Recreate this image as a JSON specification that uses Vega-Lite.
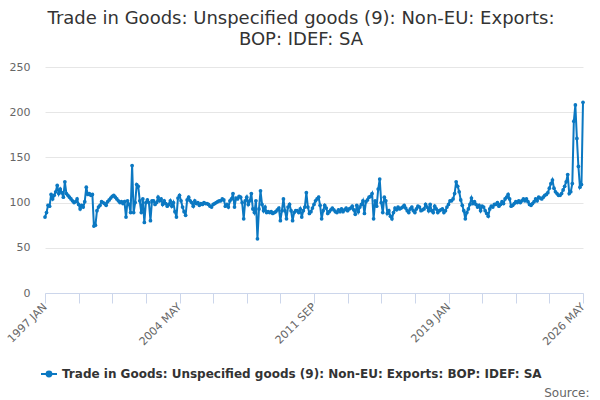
{
  "$schema": "https://vega.github.io/schema/vega-lite/v6.json",
  "width": 538,
  "height": 226,
  "autosize": {"type": "none"},
  "padding": {"left": 45, "top": 67, "right": 17, "bottom": 107},
  "background": "white",
  "config": {"font": "DejaVu Sans", "view": {"stroke": null}},
  "title": {
    "text": ["Trade in Goods: Unspecified goods (9): Non-EU: Exports:", "BOP: IDEF: SA"],
    "fontSize": 18,
    "fontWeight": "normal",
    "color": "#333333",
    "anchor": "middle",
    "frame": "group",
    "dx": -13,
    "offset": 12,
    "lineHeight": 21
  },
  "data": {
    "values": [
      {"m": "1997 JAN", "v": 84}, {"m": "1997 FEB", "v": 89}, {"m": "1997 MAR", "v": 97}, {"m": "1997 APR", "v": 96}, {"m": "1997 MAY", "v": 109}, {"m": "1997 JUN", "v": 104}, {"m": "1997 JUL", "v": 108}, {"m": "1997 AUG", "v": 112}, {"m": "1997 SEP", "v": 119}, {"m": "1997 OCT", "v": 110}, {"m": "1997 NOV", "v": 115}, {"m": "1997 DEC", "v": 111},
      {"m": "1998 JAN", "v": 106}, {"m": "1998 FEB", "v": 123}, {"m": "1998 MAR", "v": 110}, {"m": "1998 APR", "v": 108}, {"m": "1998 MAY", "v": 106}, {"m": "1998 JUN", "v": 104}, {"m": "1998 JUL", "v": 102}, {"m": "1998 AUG", "v": 100}, {"m": "1998 SEP", "v": 101}, {"m": "1998 OCT", "v": 104}, {"m": "1998 NOV", "v": 98}, {"m": "1998 DEC", "v": 93},
      {"m": "1999 JAN", "v": 97}, {"m": "1999 FEB", "v": 95}, {"m": "1999 MAR", "v": 101}, {"m": "1999 APR", "v": 117}, {"m": "1999 MAY", "v": 109}, {"m": "1999 JUN", "v": 110}, {"m": "1999 JUL", "v": 108}, {"m": "1999 AUG", "v": 109}, {"m": "1999 SEP", "v": 74}, {"m": "1999 OCT", "v": 75}, {"m": "1999 NOV", "v": 91}, {"m": "1999 DEC", "v": 95},
      {"m": "2000 JAN", "v": 97}, {"m": "2000 FEB", "v": 101}, {"m": "2000 MAR", "v": 100}, {"m": "2000 APR", "v": 99}, {"m": "2000 MAY", "v": 97}, {"m": "2000 JUN", "v": 101}, {"m": "2000 JUL", "v": 103}, {"m": "2000 AUG", "v": 105}, {"m": "2000 SEP", "v": 107}, {"m": "2000 OCT", "v": 108}, {"m": "2000 NOV", "v": 106}, {"m": "2000 DEC", "v": 104},
      {"m": "2001 JAN", "v": 102}, {"m": "2001 FEB", "v": 100}, {"m": "2001 MAR", "v": 101}, {"m": "2001 APR", "v": 99}, {"m": "2001 MAY", "v": 101}, {"m": "2001 JUN", "v": 84}, {"m": "2001 JUL", "v": 102}, {"m": "2001 AUG", "v": 98}, {"m": "2001 SEP", "v": 89}, {"m": "2001 OCT", "v": 141}, {"m": "2001 NOV", "v": 89}, {"m": "2001 DEC", "v": 100},
      {"m": "2002 JAN", "v": 120}, {"m": "2002 FEB", "v": 118}, {"m": "2002 MAR", "v": 102}, {"m": "2002 APR", "v": 89}, {"m": "2002 MAY", "v": 104}, {"m": "2002 JUN", "v": 78}, {"m": "2002 JUL", "v": 100}, {"m": "2002 AUG", "v": 103}, {"m": "2002 SEP", "v": 100}, {"m": "2002 OCT", "v": 80}, {"m": "2002 NOV", "v": 102}, {"m": "2002 DEC", "v": 102},
      {"m": "2003 JAN", "v": 98}, {"m": "2003 FEB", "v": 100}, {"m": "2003 MAR", "v": 106}, {"m": "2003 APR", "v": 102}, {"m": "2003 MAY", "v": 104}, {"m": "2003 JUN", "v": 98}, {"m": "2003 JUL", "v": 102}, {"m": "2003 AUG", "v": 99}, {"m": "2003 SEP", "v": 96}, {"m": "2003 OCT", "v": 98}, {"m": "2003 NOV", "v": 102}, {"m": "2003 DEC", "v": 96},
      {"m": "2004 JAN", "v": 100}, {"m": "2004 FEB", "v": 90}, {"m": "2004 MAR", "v": 84}, {"m": "2004 APR", "v": 105}, {"m": "2004 MAY", "v": 108}, {"m": "2004 JUN", "v": 102}, {"m": "2004 JUL", "v": 95}, {"m": "2004 AUG", "v": 90}, {"m": "2004 SEP", "v": 86}, {"m": "2004 OCT", "v": 103}, {"m": "2004 NOV", "v": 106}, {"m": "2004 DEC", "v": 102},
      {"m": "2005 JAN", "v": 100}, {"m": "2005 FEB", "v": 96}, {"m": "2005 MAR", "v": 102}, {"m": "2005 APR", "v": 99}, {"m": "2005 MAY", "v": 100}, {"m": "2005 JUN", "v": 97}, {"m": "2005 JUL", "v": 99}, {"m": "2005 AUG", "v": 98}, {"m": "2005 SEP", "v": 100}, {"m": "2005 OCT", "v": 99}, {"m": "2005 NOV", "v": 99}, {"m": "2005 DEC", "v": 98},
      {"m": "2006 JAN", "v": 96}, {"m": "2006 FEB", "v": 95}, {"m": "2006 MAR", "v": 98}, {"m": "2006 APR", "v": 99}, {"m": "2006 MAY", "v": 100}, {"m": "2006 JUN", "v": 101}, {"m": "2006 JUL", "v": 102}, {"m": "2006 AUG", "v": 102}, {"m": "2006 SEP", "v": 104}, {"m": "2006 OCT", "v": 103}, {"m": "2006 NOV", "v": 96}, {"m": "2006 DEC", "v": 98},
      {"m": "2007 JAN", "v": 95}, {"m": "2007 FEB", "v": 102}, {"m": "2007 MAR", "v": 104}, {"m": "2007 APR", "v": 110}, {"m": "2007 MAY", "v": 95}, {"m": "2007 JUN", "v": 105}, {"m": "2007 JUL", "v": 104}, {"m": "2007 AUG", "v": 107}, {"m": "2007 SEP", "v": 106}, {"m": "2007 OCT", "v": 100}, {"m": "2007 NOV", "v": 82}, {"m": "2007 DEC", "v": 102},
      {"m": "2008 JAN", "v": 106}, {"m": "2008 FEB", "v": 98}, {"m": "2008 MAR", "v": 102}, {"m": "2008 APR", "v": 110}, {"m": "2008 MAY", "v": 93}, {"m": "2008 JUN", "v": 89}, {"m": "2008 JUL", "v": 102}, {"m": "2008 AUG", "v": 60}, {"m": "2008 SEP", "v": 93}, {"m": "2008 OCT", "v": 113}, {"m": "2008 NOV", "v": 98}, {"m": "2008 DEC", "v": 91},
      {"m": "2009 JAN", "v": 95}, {"m": "2009 FEB", "v": 89}, {"m": "2009 MAR", "v": 90}, {"m": "2009 APR", "v": 89}, {"m": "2009 MAY", "v": 90}, {"m": "2009 JUN", "v": 88}, {"m": "2009 JUL", "v": 89}, {"m": "2009 AUG", "v": 90}, {"m": "2009 SEP", "v": 92}, {"m": "2009 OCT", "v": 94}, {"m": "2009 NOV", "v": 80}, {"m": "2009 DEC", "v": 91},
      {"m": "2010 JAN", "v": 104}, {"m": "2010 FEB", "v": 91}, {"m": "2010 MAR", "v": 82}, {"m": "2010 APR", "v": 95}, {"m": "2010 MAY", "v": 98}, {"m": "2010 JUN", "v": 91}, {"m": "2010 JUL", "v": 80}, {"m": "2010 AUG", "v": 89}, {"m": "2010 SEP", "v": 91}, {"m": "2010 OCT", "v": 91}, {"m": "2010 NOV", "v": 89}, {"m": "2010 DEC", "v": 93},
      {"m": "2011 JAN", "v": 84}, {"m": "2011 FEB", "v": 91}, {"m": "2011 MAR", "v": 95}, {"m": "2011 APR", "v": 111}, {"m": "2011 MAY", "v": 95}, {"m": "2011 JUN", "v": 88}, {"m": "2011 JUL", "v": 90}, {"m": "2011 AUG", "v": 94}, {"m": "2011 SEP", "v": 98}, {"m": "2011 OCT", "v": 102}, {"m": "2011 NOV", "v": 104}, {"m": "2011 DEC", "v": 106},
      {"m": "2012 JAN", "v": 97}, {"m": "2012 FEB", "v": 82}, {"m": "2012 MAR", "v": 91}, {"m": "2012 APR", "v": 97}, {"m": "2012 MAY", "v": 94}, {"m": "2012 JUN", "v": 88}, {"m": "2012 JUL", "v": 90}, {"m": "2012 AUG", "v": 92}, {"m": "2012 SEP", "v": 94}, {"m": "2012 OCT", "v": 92}, {"m": "2012 NOV", "v": 90}, {"m": "2012 DEC", "v": 89},
      {"m": "2013 JAN", "v": 92}, {"m": "2013 FEB", "v": 90}, {"m": "2013 MAR", "v": 93}, {"m": "2013 APR", "v": 90}, {"m": "2013 MAY", "v": 92}, {"m": "2013 JUN", "v": 94}, {"m": "2013 JUL", "v": 91}, {"m": "2013 AUG", "v": 93}, {"m": "2013 SEP", "v": 94}, {"m": "2013 OCT", "v": 96}, {"m": "2013 NOV", "v": 92}, {"m": "2013 DEC", "v": 87},
      {"m": "2014 JAN", "v": 97}, {"m": "2014 FEB", "v": 90}, {"m": "2014 MAR", "v": 95}, {"m": "2014 APR", "v": 98}, {"m": "2014 MAY", "v": 102}, {"m": "2014 JUN", "v": 88}, {"m": "2014 JUL", "v": 101}, {"m": "2014 AUG", "v": 103}, {"m": "2014 SEP", "v": 106}, {"m": "2014 OCT", "v": 107}, {"m": "2014 NOV", "v": 110}, {"m": "2014 DEC", "v": 82},
      {"m": "2015 JAN", "v": 102}, {"m": "2015 FEB", "v": 96}, {"m": "2015 MAR", "v": 115}, {"m": "2015 APR", "v": 126}, {"m": "2015 MAY", "v": 100}, {"m": "2015 JUN", "v": 89}, {"m": "2015 JUL", "v": 106}, {"m": "2015 AUG", "v": 102}, {"m": "2015 SEP", "v": 88}, {"m": "2015 OCT", "v": 91}, {"m": "2015 NOV", "v": 85}, {"m": "2015 DEC", "v": 82},
      {"m": "2016 JAN", "v": 89}, {"m": "2016 FEB", "v": 94}, {"m": "2016 MAR", "v": 92}, {"m": "2016 APR", "v": 95}, {"m": "2016 MAY", "v": 93}, {"m": "2016 JUN", "v": 94}, {"m": "2016 JUL", "v": 95}, {"m": "2016 AUG", "v": 97}, {"m": "2016 SEP", "v": 94}, {"m": "2016 OCT", "v": 91}, {"m": "2016 NOV", "v": 89}, {"m": "2016 DEC", "v": 93},
      {"m": "2017 JAN", "v": 95}, {"m": "2017 FEB", "v": 91}, {"m": "2017 MAR", "v": 89}, {"m": "2017 APR", "v": 93}, {"m": "2017 MAY", "v": 96}, {"m": "2017 JUN", "v": 95}, {"m": "2017 JUL", "v": 91}, {"m": "2017 AUG", "v": 92}, {"m": "2017 SEP", "v": 93}, {"m": "2017 OCT", "v": 98}, {"m": "2017 NOV", "v": 95}, {"m": "2017 DEC", "v": 91},
      {"m": "2018 JAN", "v": 98}, {"m": "2018 FEB", "v": 91}, {"m": "2018 MAR", "v": 89}, {"m": "2018 APR", "v": 96}, {"m": "2018 MAY", "v": 93}, {"m": "2018 JUN", "v": 89}, {"m": "2018 JUL", "v": 91}, {"m": "2018 AUG", "v": 92}, {"m": "2018 SEP", "v": 93}, {"m": "2018 OCT", "v": 89}, {"m": "2018 NOV", "v": 91}, {"m": "2018 DEC", "v": 95},
      {"m": "2019 JAN", "v": 98}, {"m": "2019 FEB", "v": 102}, {"m": "2019 MAR", "v": 102}, {"m": "2019 APR", "v": 104}, {"m": "2019 MAY", "v": 110}, {"m": "2019 JUN", "v": 123}, {"m": "2019 JUL", "v": 118}, {"m": "2019 AUG", "v": 112}, {"m": "2019 SEP", "v": 103}, {"m": "2019 OCT", "v": 97}, {"m": "2019 NOV", "v": 91}, {"m": "2019 DEC", "v": 82},
      {"m": "2020 JAN", "v": 89}, {"m": "2020 FEB", "v": 93}, {"m": "2020 MAR", "v": 98}, {"m": "2020 APR", "v": 105}, {"m": "2020 MAY", "v": 99}, {"m": "2020 JUN", "v": 101}, {"m": "2020 JUL", "v": 98}, {"m": "2020 AUG", "v": 95}, {"m": "2020 SEP", "v": 97}, {"m": "2020 OCT", "v": 91}, {"m": "2020 NOV", "v": 96}, {"m": "2020 DEC", "v": 95},
      {"m": "2021 JAN", "v": 91}, {"m": "2021 FEB", "v": 88}, {"m": "2021 MAR", "v": 85}, {"m": "2021 APR", "v": 93}, {"m": "2021 MAY", "v": 96}, {"m": "2021 JUN", "v": 95}, {"m": "2021 JUL", "v": 98}, {"m": "2021 AUG", "v": 98}, {"m": "2021 SEP", "v": 100}, {"m": "2021 OCT", "v": 96}, {"m": "2021 NOV", "v": 98}, {"m": "2021 DEC", "v": 101},
      {"m": "2022 JAN", "v": 99}, {"m": "2022 FEB", "v": 104}, {"m": "2022 MAR", "v": 106}, {"m": "2022 APR", "v": 109}, {"m": "2022 MAY", "v": 104}, {"m": "2022 JUN", "v": 96}, {"m": "2022 JUL", "v": 97}, {"m": "2022 AUG", "v": 99}, {"m": "2022 SEP", "v": 101}, {"m": "2022 OCT", "v": 100}, {"m": "2022 NOV", "v": 102}, {"m": "2022 DEC", "v": 100},
      {"m": "2023 JAN", "v": 102}, {"m": "2023 FEB", "v": 104}, {"m": "2023 MAR", "v": 102}, {"m": "2023 APR", "v": 104}, {"m": "2023 MAY", "v": 101}, {"m": "2023 JUN", "v": 98}, {"m": "2023 JUL", "v": 97}, {"m": "2023 AUG", "v": 99}, {"m": "2023 SEP", "v": 101}, {"m": "2023 OCT", "v": 104}, {"m": "2023 NOV", "v": 102}, {"m": "2023 DEC", "v": 106},
      {"m": "2024 JAN", "v": 105}, {"m": "2024 FEB", "v": 104}, {"m": "2024 MAR", "v": 106}, {"m": "2024 APR", "v": 108}, {"m": "2024 MAY", "v": 109}, {"m": "2024 JUN", "v": 111}, {"m": "2024 JUL", "v": 116}, {"m": "2024 AUG", "v": 121}, {"m": "2024 SEP", "v": 125}, {"m": "2024 OCT", "v": 116}, {"m": "2024 NOV", "v": 112}, {"m": "2024 DEC", "v": 110},
      {"m": "2025 JAN", "v": 108}, {"m": "2025 FEB", "v": 108}, {"m": "2025 MAR", "v": 110}, {"m": "2025 APR", "v": 114}, {"m": "2025 MAY", "v": 118}, {"m": "2025 JUN", "v": 123}, {"m": "2025 JUL", "v": 131}, {"m": "2025 AUG", "v": 110}, {"m": "2025 SEP", "v": 112}, {"m": "2025 OCT", "v": 121}, {"m": "2025 NOV", "v": 190}, {"m": "2025 DEC", "v": 208},
      {"m": "2026 JAN", "v": 171}, {"m": "2026 FEB", "v": 140}, {"m": "2026 MAR", "v": 117}, {"m": "2026 APR", "v": 120}, {"m": "2026 MAY", "v": 211}
    ]
  },
  "encoding": {
    "x": {
      "field": "m",
      "type": "ordinal",
      "sort": null,
      "scale": {"type": "point", "padding": 0},
      "axis": {
        "values": ["1997 JAN", "1998 NOV", "2000 SEP", "2002 JUL", "2004 MAY", "2006 MAR", "2008 JAN", "2009 NOV", "2011 SEP", "2013 JUL", "2015 MAY", "2017 MAR", "2019 JAN", "2020 NOV", "2022 SEP", "2024 JUL", "2026 MAY"],
        "labelExpr": "indexof(['1997 JAN', '2004 MAY', '2011 SEP', '2019 JAN', '2026 MAY'], datum.value) >= 0 ? datum.value : ''",
        "labelAngle": -45,
        "labelAlign": "right",
        "labelBaseline": "middle",
        "labelOverlap": false,
        "labelFontSize": 11,
        "labelColor": "#666666",
        "labelPadding": 2,
        "tickSize": 10,
        "tickColor": "#ccd6eb",
        "domainColor": "#ccd6eb",
        "grid": false,
        "title": "Source:",
        "titleX": 544,
        "titleY": 103,
        "titleAlign": "right",
        "titleBaseline": "alphabetic",
        "titleFontSize": 12,
        "titleFontWeight": "normal",
        "titleColor": "#666666"
      }
    },
    "y": {
      "field": "v",
      "type": "quantitative",
      "scale": {"domain": [0, 250]},
      "axis": {
        "values": [0, 50, 100, 150, 200, 250],
        "domain": false,
        "ticks": false,
        "gridColor": "#e6e6e6",
        "labelColor": "#666666",
        "labelFontSize": 11,
        "labelPadding": 15,
        "title": null
      }
    }
  },
  "layer": [
    {
      "mark": {"type": "line", "strokeWidth": 2},
      "encoding": {
        "color": {
          "datum": "Trade in Goods: Unspecified goods (9): Non-EU: Exports: BOP: IDEF: SA",
          "type": "nominal",
          "scale": {"range": ["#0b78c2"]},
          "legend": {
            "orient": "none",
            "legendX": -5,
            "legendY": 298,
            "title": null,
            "labelFontSize": 12,
            "labelFontWeight": "bold",
            "labelColor": "#333333",
            "labelLimit": 600,
            "symbolType": "M-1,0L1,0M-0.3,0A0.3,0.3,0,1,0,0.3,0A0.3,0.3,0,1,0,-0.3,0",
            "symbolSize": 256,
            "symbolStrokeWidth": 2,
            "symbolFillColor": "#0b78c2"
          }
        }
      }
    },
    {
      "mark": {"type": "point", "filled": true, "size": 14, "opacity": 1, "color": "#0b78c2"},
      "encoding": {}
    }
  ]
}
